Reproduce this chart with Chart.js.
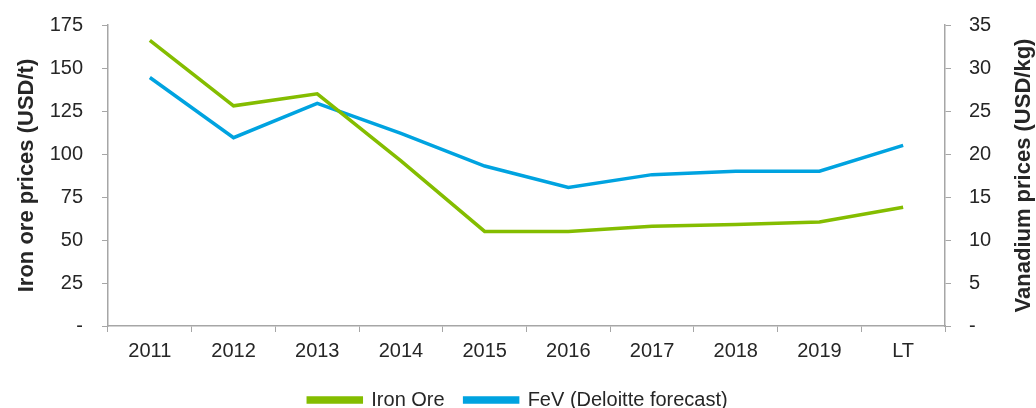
<!DOCTYPE html>
<html>
<head>
<meta charset="utf-8">
<script src="https://cdn.jsdelivr.net/npm/chart.js@4.4.0/dist/chart.umd.min.js"></script>
<style>
  html, body { margin: 0; padding: 0; background: #fff; }
  #wrap { width: 1036px; height: 408px; }
</style>
</head>
<body>
<div id="wrap"><canvas id="myChart" width="1036" height="408"></canvas></div>
<script>
// datos
const years = ['2011', '2012', '2013', '2014', '2015', '2016', '2017', '2018', '2019', 'LT'];
const ironOre = [166, 128, 135, 96, 55, 55, 58, 59, 60.5, 69];
const fev = [28.9, 21.9, 25.9, 22.4, 18.6, 16.1, 17.6, 18, 18, 21];

const verde = '#84BD00';
const azul = '#00A3E0';
const gris = '#a6a6a6';
const texto = '#262626';

Chart.defaults.font.family = 'Liberation Sans, Arial, sans-serif';
Chart.defaults.font.size = 20;
Chart.defaults.color = texto;

const guion = v => (v === 0 ? '-' : v);

// titulo del eje derecho, de abajo hacia arriba
const tituloDerecho = {
  id: 'tituloDerecho',
  afterDraw(chart) {
    const ctx = chart.ctx;
    const area = chart.chartArea;
    ctx.save();
    ctx.translate(1024, (area.top + area.bottom) / 2);
    ctx.rotate(-Math.PI / 2);
    ctx.font = 'bold 22px Liberation Sans, Arial, sans-serif';
    ctx.fillStyle = texto;
    ctx.textAlign = 'center';
    ctx.textBaseline = 'middle';
    ctx.fillText('Vanadium prices (USD/kg)', 0, 0);
    ctx.restore();
  }
};

const ctx = document.getElementById('myChart').getContext('2d');
const myChart = new Chart(ctx, {
  type: 'line',
  data: {
    labels: years,
    datasets: [{
      label: 'Iron Ore',
      data: ironOre,
      borderColor: verde,
      backgroundColor: verde,
      borderWidth: 3.5,
      pointRadius: 0,
      tension: 0,
      yAxisID: 'y'
    }, {
      label: 'FeV (Deloitte forecast)',
      data: fev,
      borderColor: azul,
      backgroundColor: azul,
      borderWidth: 3.5,
      pointRadius: 0,
      tension: 0,
      yAxisID: 'y1'
    }]
  },
  options: {
    responsive: false,
    animation: false,
    layout: { padding: { top: 25, bottom: -12 } },
    plugins: {
      legend: {
        position: 'bottom',
        labels: { boxWidth: 53, boxHeight: 4, padding: 20, font: { size: 20 } }
      },
      tooltip: { enabled: false }
    },
    scales: {
      x: {
        offset: true,
        grid: { offset: true, drawOnChartArea: false, color: gris, tickLength: 6 },
        border: { color: gris, width: 1.5 },
        ticks: { padding: 7 },
        afterFit: s => { s.height = 44; }
      },
      y: {
        position: 'left',
        min: 0, max: 175,
        ticks: { stepSize: 25, padding: 19, callback: guion },
        grid: { drawOnChartArea: false, color: gris, tickLength: 6 },
        border: { color: gris, width: 1.5 },
        title: { display: true, text: 'Iron ore prices (USD/t)', font: { size: 22, weight: 'bold' }, padding: { top: 14 } },
        afterFit: s => { s.width = 108; s.paddingTop = 0; }
      },
      y1: {
        position: 'right',
        min: 0, max: 35,
        ticks: { stepSize: 5, padding: 18, callback: guion },
        grid: { drawOnChartArea: false, color: gris, tickLength: 6 },
        border: { color: gris, width: 1.5 },
        afterFit: s => { s.width = 91; s.paddingTop = 0; }
      }
    }
  },
  plugins: [tituloDerecho]
});
</script>
</body>
</html>
